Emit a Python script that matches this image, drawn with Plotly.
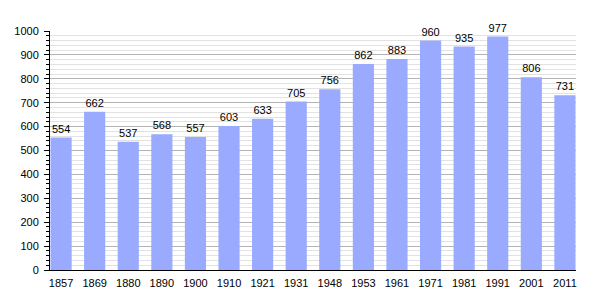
import plotly.graph_objects as go

years = ["1857", "1869", "1880", "1890", "1900", "1910", "1921", "1931", "1948",
         "1953", "1961", "1971", "1981", "1991", "2001", "2011"]
population = [554, 662, 537, 568, 557, 603, 633, 705, 756, 862, 883, 960, 935, 977, 806, 731]

fig = go.Figure(go.Bar(
    x=years, y=population,
    marker=dict(color="#99aaff", line=dict(width=0)),
    width=0.63,
    text=[str(v) for v in population],
    textposition="outside",
    textfont=dict(family="Liberation Sans, Arial, sans-serif", size=11, color="#000"),
    cliponaxis=False,
))

fig.update_layout(
    width=605, height=300,
    margin=dict(l=50, r=29, t=31, b=30),
    plot_bgcolor="white", paper_bgcolor="white",
    font=dict(family="Liberation Sans, Arial, sans-serif", size=11, color="#000"),
    showlegend=False,
    bargap=0.37,
)
fig.update_xaxes(
    type="category", range=[-0.33, 15.33],
    showline=True, linecolor="#000", linewidth=1,
    ticks="", showgrid=False, tickfont=dict(size=11),
    ticklabelstandoff=3,
)
fig.update_yaxes(
    range=[0, 1000], dtick=100, tick0=0,
    showline=True, linecolor="#000", linewidth=1,
    ticks="outside", ticklen=5, tickcolor="#000",
    showgrid=True, gridcolor="#b4b4b4", gridwidth=1,
    minor=dict(dtick=20, ticks="outside", ticklen=3, tickcolor="#000",
               showgrid=True, gridcolor="#e2e2e2", gridwidth=1),
    zeroline=False, tickfont=dict(size=11),
    ticklabelstandoff=3,
)

fig.write_html("out.html")
